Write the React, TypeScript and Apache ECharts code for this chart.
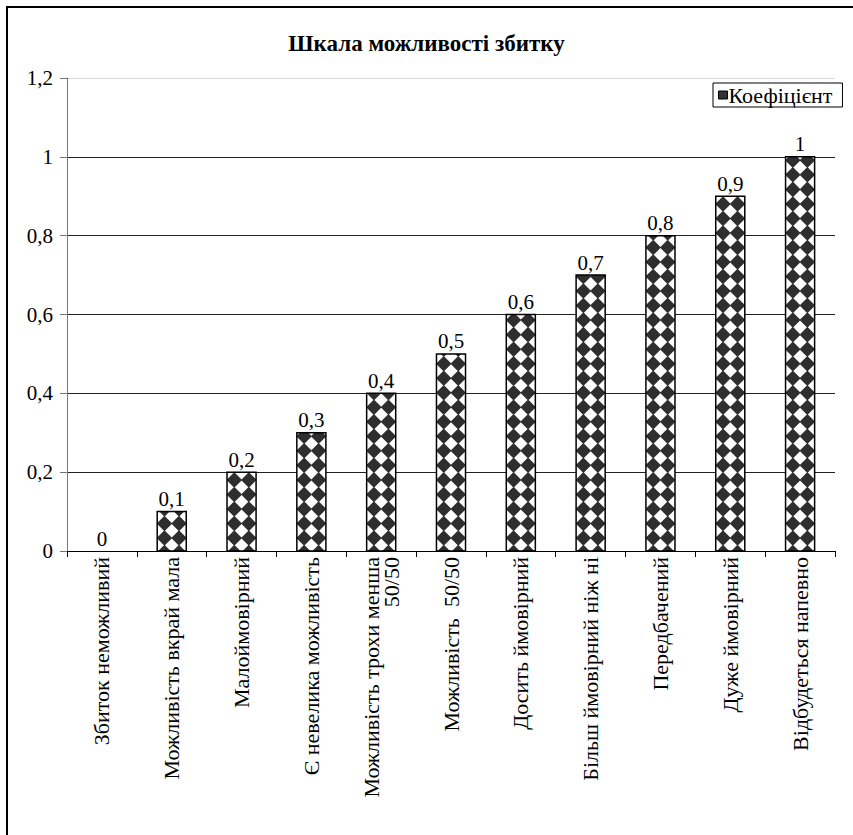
import React, { useEffect, useRef } from "react";
import * as echarts from "echarts";

const TITLE = "Шкала можливості збитку";
const SERIES_NAME = "Коефіцієнт";
const categories = [
  "Збиток неможливий",
  "Можливість вкрай мала",
  "Малоймовірний",
  "Є невелика можливість",
  "Можливість трохи менша\n50/50",
  "Можливість  50/50",
  "Досить ймовірний",
  "Більш ймовірний ніж ні",
  "Передбачений",
  "Дуже ймовірний",
  "Відбудеться напевно",
];
const values = [0, 0.1, 0.2, 0.3, 0.4, 0.5, 0.6, 0.7, 0.8, 0.9, 1];
const yTicks = { min: 0, max: 1.2, interval: 0.2 };

const FONT = "Liberation Serif";
const fmt = (v: number) => String(Math.round(v * 10) / 10).replace(".", ",");

type Pt = [number, number];
function clipY(poly: Pt[], yMin: number, yMax: number): Pt[] {
  const clip = (pts: Pt[], inside: (p: Pt) => boolean, yb: number): Pt[] => {
    const out: Pt[] = [];
    for (let i = 0; i < pts.length; i++) {
      const a = pts[i];
      const b = pts[(i + 1) % pts.length];
      const ia = inside(a);
      const ib = inside(b);
      if (ia) out.push(a);
      if (ia !== ib) {
        const t = (yb - a[1]) / (b[1] - a[1]);
        out.push([a[0] + t * (b[0] - a[0]), yb]);
      }
    }
    return out;
  };
  let r = clip(poly, (p) => p[1] >= yMin, yMin);
  if (r.length < 3) return [];
  r = clip(r, (p) => p[1] <= yMax, yMax);
  return r.length < 3 ? [] : r;
}

export default function App() {
  const ref = useRef<HTMLDivElement>(null);
  useEffect(() => {
    document.body.style.margin = "0";
    const chart = echarts.init(ref.current!, null, { renderer: "svg" });
    const BAR_RATIO = 29 / 69.7;
    const option: any = {
      animation: false,
      backgroundColor: "#fff",
      textStyle: { fontFamily: FONT, color: "#000" },
      title: {
        text: TITLE,
        left: "center",
        top: 27,
        textStyle: { fontFamily: FONT, fontSize: 23, fontWeight: "bold", color: "#000" },
      },
      legend: {
        data: [{ name: SERIES_NAME, icon: "rect", itemStyle: { color: "#333", borderColor: "#000", borderWidth: 1 } }],
        left: 713,
        top: 83,
        padding: [1, 10, 1, 5],
        itemWidth: 9,
        itemHeight: 8,
        borderColor: "#000",
        borderWidth: 1,
        selectedMode: false,
        textStyle: { fontFamily: FONT, fontSize: 22, color: "#000", padding: [0, 0, 0, -4] },
      },
      grid: { left: 67, right: 18, top: 78, bottom: 284, containLabel: false },
      xAxis: {
        type: "category",
        data: categories,
        axisLine: { lineStyle: { color: "#000", width: 1 } },
        axisTick: { show: true, interval: 0, length: 6, lineStyle: { color: "#000" } },
        axisLabel: {
          interval: 0,
          rotate: 90,
          margin: 6,
          fontFamily: FONT,
          fontSize: 22,
          lineHeight: 20,
          color: "#000",
        },
      },
      yAxis: {
        type: "value",
        min: yTicks.min,
        max: yTicks.max,
        interval: yTicks.interval,
        axisLine: { show: true, lineStyle: { color: "#777", width: 1 } },
        axisTick: { show: true, length: 7, lineStyle: { color: "#777" } },
        axisLabel: { formatter: fmt, fontFamily: FONT, fontSize: 21, color: "#000", margin: 14 },
        splitLine: {
          show: true,
          lineStyle: { color: ["#222", "#222", "#222", "#222", "#222", "#222", "#d8d8d8"], width: 1 },
        },
      },
      graphic: [
        {
          type: "rect",
          silent: true,
          z: -10,
          shape: { x: 7, y: 7, width: 900, height: 900 },
          style: { fill: "none", stroke: "#000", lineWidth: 2 },
        },
      ],
      series: [
        {
          name: SERIES_NAME,
          type: "custom",
          data: values.map((v, i) => [i, v]),
          encode: { x: 0, y: 1 },
          itemStyle: { color: "#333" },
          renderItem: (params: any, api: any) => {
            const idx = api.value(0);
            const v = api.value(1);
            const top = api.coord([idx, v]);
            const base = api.coord([idx, 0]);
            const bw = api.size([1, 0])[0] * BAR_RATIO;
            const x = top[0] - bw / 2;
            const y = top[1];
            const h = base[1] - top[1];
            const children: any[] = [];
            if (h > 0.5) {
              children.push({
                type: "rect",
                shape: { x, y, width: bw, height: h },
                style: { fill: "#fff" },
              });
              const cw = bw / 2;
              const rh = cw;
              const r = cw / 2 + 0.5;
              for (let k = 0; ; k++) {
                const cy = base[1] + 1.5 - k * rh;
                if (cy < y - r) break;
                for (let c = 0; c < 2; c++) {
                  const cx = x + cw * (c + 0.5);
                  const poly: Pt[] = [
                    [cx, cy - r],
                    [cx + r, cy],
                    [cx, cy + r],
                    [cx - r, cy],
                  ];
                  const clipped = clipY(poly, y, base[1]);
                  if (clipped.length >= 3) {
                    children.push({
                      type: "polygon",
                      shape: { points: clipped },
                      style: { fill: "#2e2e2e" },
                    });
                  }
                }
              }
              children.push({
                type: "rect",
                shape: { x, y, width: bw, height: h },
                style: { fill: "none", stroke: "#000", lineWidth: 1.5 },
              });
            }
            children.push({
              type: "text",
              x: top[0],
              y: y - 2,
              style: {
                text: fmt(v),
                textAlign: "center",
                textVerticalAlign: "bottom",
                fontFamily: FONT,
                fontSize: 21,
                fill: "#000",
              },
            });
            return { type: "group", children };
          },
        },
      ],
    };
    chart.setOption(option);
    return () => chart.dispose();
  }, []);
  return <div ref={ref} style={{ width: 853, height: 835 }} />;
}
